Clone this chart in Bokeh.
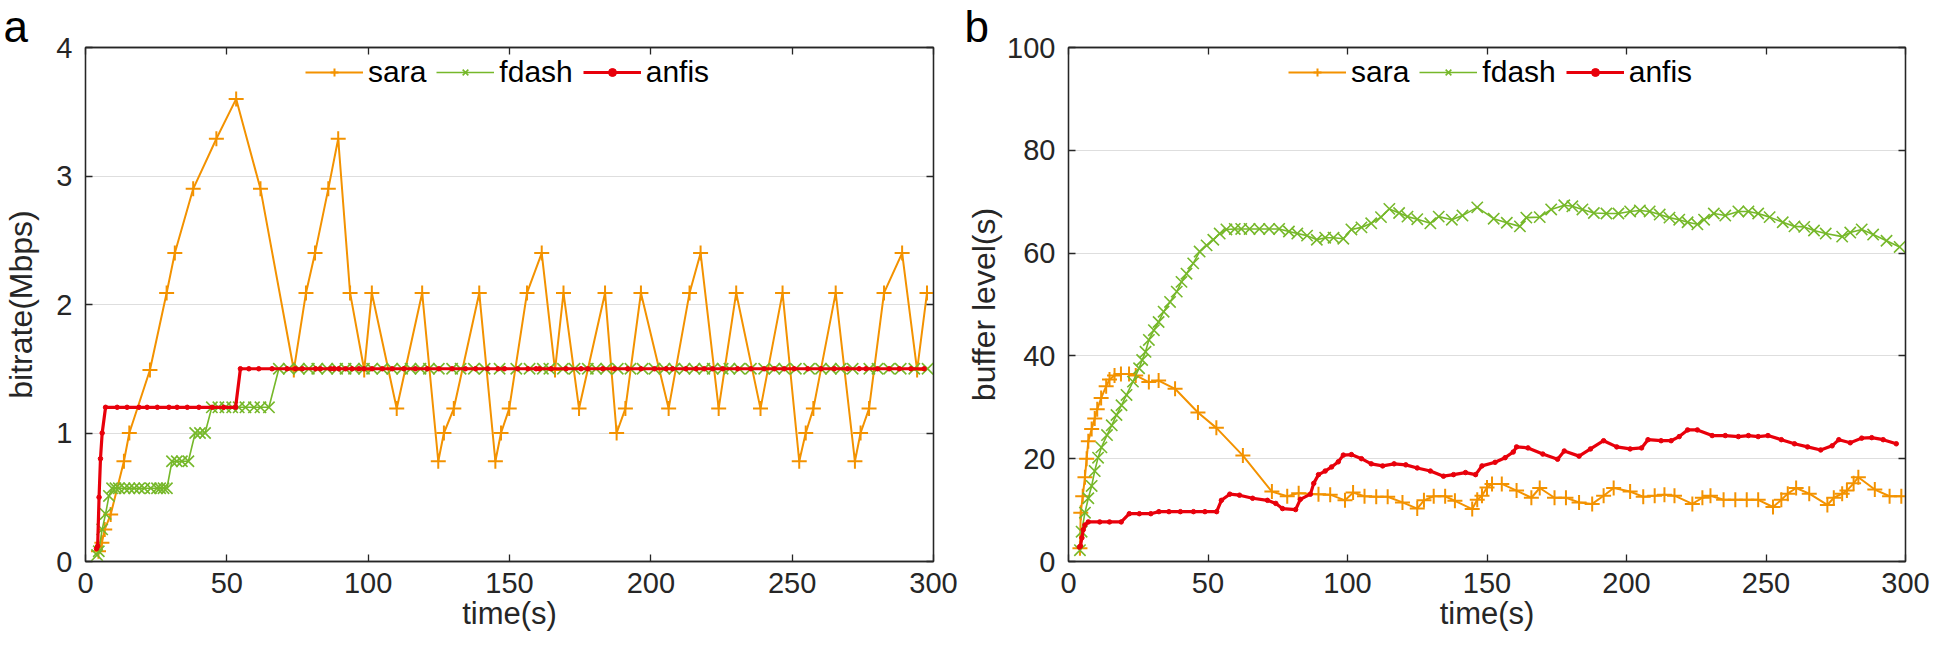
from bokeh.plotting import figure
from bokeh.models import (Range1d, LinearAxis, FixedTicker, Legend, LegendItem,
                          CustomJSTickFormatter)
from bokeh.layouts import row
from bokeh.embed import file_html
from bokeh.resources import INLINE

# ---------------- data ----------------
x_ticks = [0, 50, 100, 150, 200, 250, 300]
rate_ticks = [0, 1, 2, 3, 4]
buf_ticks = [0, 20, 40, 60, 80, 100]

sara_a_t = [4.6, 5.8, 6.8, 8.9, 13.6, 15.5, 22.8, 28.7, 31.6, 38.1, 46.3, 53.3,
            61.9, 73.7, 78.0, 81.2, 85.9, 89.4, 93.6, 98.6, 101.3, 110.1, 119.1, 124.8,
            126.8, 130.3, 139.3, 145.0, 147.0, 149.9, 156.2, 161.4, 166.1, 169.1, 174.6, 183.8,
            187.9, 191.0, 196.5, 206.3, 213.7, 217.6, 224.0, 230.2, 238.8, 246.6, 252.5, 254.8,
            257.5, 265.4, 272.2, 274.2, 277.2, 282.5, 288.9, 294.2, 297.7]
sara_a_v = [0.08, 0.145, 0.25, 0.365, 0.78, 1.0, 1.49, 2.09, 2.4, 2.9, 3.29, 3.6,
            2.9, 1.49, 2.09, 2.4, 2.9, 3.29, 2.09, 1.49, 2.09, 1.19, 2.09, 0.78,
            1.0, 1.19, 2.09, 0.78, 1.0, 1.19, 2.09, 2.4, 1.49, 2.09, 1.19, 2.09,
            1.0, 1.19, 2.09, 1.19, 2.09, 2.4, 1.19, 2.09, 1.19, 2.09, 0.78, 1.0,
            1.19, 2.09, 0.78, 1.0, 1.19, 2.09, 2.4, 1.49, 2.09]

sara_b_t = [4.1, 4.4, 5.1, 5.9, 6.5, 7.1, 8.3, 9.4, 10.3, 11.7,
            13.5, 14.7, 16.5, 18.8, 21.7, 24.1, 28.8, 32.3, 38.2, 46.4,
            53.0, 62.5, 72.9, 78.4, 82.5, 89.6, 93.8, 99.1, 102.0, 106.1,
            110.3, 114.4, 119.7, 125.0, 127.4, 130.9, 135.0, 138.5, 144.7, 146.5,
            148.2, 150.0, 151.8, 155.3, 160.6, 165.9, 168.9, 174.2, 178.3, 183.0,
            187.7, 191.8, 195.4, 201.3, 206.0, 210.1, 213.6, 217.2, 223.6, 227.2,
            230.1, 234.8, 239.0, 243.1, 247.2, 252.5, 255.5, 257.8, 260.8, 265.5,
            272.0, 274.3, 277.3, 279.0, 281.4, 283.1, 289.0, 294.3, 298.5]
sara_b_v = [2.6, 9.5, 12.7, 16.4, 20.0, 23.4, 25.8, 27.8, 29.6, 31.8,
            34.1, 35.4, 36.2, 36.5, 36.5, 36.2, 34.9, 35.2, 33.6, 29.0,
            26.0, 20.6, 13.6, 12.7, 13.3, 13.1, 13.0, 11.9, 13.4, 12.7,
            12.6, 12.6, 11.5, 10.3, 11.9, 12.7, 12.7, 11.8, 10.2, 12.0,
            12.8, 14.4, 15.1, 15.1, 13.8, 12.4, 14.3, 12.4, 12.4, 11.5,
            11.2, 12.8, 14.3, 13.6, 12.6, 12.8, 13.0, 12.8, 11.2, 12.4,
            12.8, 12.0, 12.0, 12.0, 12.0, 10.6, 12.0, 13.2, 14.3, 13.2,
            11.0, 12.4, 13.2, 13.8, 15.2, 16.4, 14.0, 12.7, 12.7]

fdash_t = [4.1, 4.7, 5.9, 7.1, 8.3, 9.4, 10.6, 11.8, 13.8, 15.5,
           17.2, 19.0, 20.8, 23.1, 25.3, 26.4, 27.6, 28.8, 30.6, 32.3,
           34.1, 36.4, 38.8, 40.5, 42.3, 44.7, 47.0, 49.5, 51.9, 54.2,
           56.6, 59.6, 61.9, 64.9, 68.4, 71.9, 75.5, 79.0, 82.0, 85.5,
           89.0, 92.0, 95.0, 98.5, 101.4, 105.0, 108.5, 112.0, 115.0, 118.5,
           121.5, 125.0, 129.7, 132.7, 137.4, 141.2, 146.5, 152.4, 157.1, 161.8,
           164.1, 168.9, 173.0, 177.7, 180.6, 184.2, 188.3, 192.8, 197.1, 201.3,
           204.8, 208.3, 211.9, 215.4, 218.9, 221.9, 225.4, 227.8, 231.3, 235.4,
           240.1, 243.7, 247.2, 251.3, 256.0, 260.2, 263.7, 267.2, 271.4, 277.3,
           280.2, 284.3, 288.4, 293.2, 297.9]
fdash_rate = [0.05, 0.08, 0.25, 0.37, 0.51, 0.57, 0.57, 0.57, 0.57, 0.57,
              0.57, 0.57, 0.57, 0.57, 0.57, 0.57, 0.57, 0.57, 0.78, 0.78,
              0.78, 0.78, 1.0, 1.0, 1.0, 1.2, 1.2, 1.2, 1.2, 1.2,
              1.2, 1.2, 1.2, 1.2, 1.5, 1.5, 1.5, 1.5, 1.5, 1.5,
              1.5, 1.5, 1.5, 1.5, 1.5, 1.5, 1.5, 1.5, 1.5, 1.5,
              1.5, 1.5, 1.5, 1.5, 1.5, 1.5, 1.5, 1.5, 1.5, 1.5,
              1.5, 1.5, 1.5, 1.5, 1.5, 1.5, 1.5, 1.5, 1.5, 1.5,
              1.5, 1.5, 1.5, 1.5, 1.5, 1.5, 1.5, 1.5, 1.5, 1.5,
              1.5, 1.5, 1.5, 1.5, 1.5, 1.5, 1.5, 1.5, 1.5, 1.5,
              1.5, 1.5, 1.5, 1.5, 1.5]
fdash_buf = [2.2, 5.8, 9.5, 12.3, 14.7, 17.6, 20.2, 22.2, 24.6, 26.5,
             28.5, 30.4, 32.4, 35.0, 37.6, 39.2, 40.8, 43.1, 45.0, 46.6,
             48.6, 50.5, 52.5, 54.4, 56.0, 58.0, 60.3, 61.5, 62.6, 63.8,
             64.6, 64.7, 64.7, 64.7, 64.7, 64.7, 64.7, 64.2, 63.8, 63.4,
             62.6, 63.0, 63.0, 62.8, 64.6, 65.0, 65.8, 67.0, 68.6, 67.8,
             67.1, 66.6, 65.8, 67.1, 66.5, 67.3, 68.9, 66.7, 65.9, 65.2,
             66.9, 67.0, 68.5, 69.3, 69.1, 68.5, 67.8, 67.7, 67.7, 68.1,
             68.3, 68.1, 67.5, 66.9, 66.5, 66.0, 65.6, 66.5, 67.7, 67.3,
             68.1, 68.1, 67.7, 67.0, 66.0, 65.2, 65.1, 64.4, 63.8, 63.2,
             64.0, 64.6, 63.6, 62.4, 61.2]

anfis_t = [3.9, 4.3, 4.8, 5.3, 5.9, 7.1, 11.2, 14.7, 18.9, 21.8,
           25.4, 29.5, 32.4, 36.0, 40.1, 44.8, 48.9, 53.1, 54.8, 57.8,
           61.3, 66.0, 71.3, 74.3, 76.7, 81.4, 83.1, 86.7, 87.9, 89.6,
           92.0, 94.3, 96.7, 98.5, 101.4, 105.0, 108.5, 112.6, 116.7, 120.9,
           125.0, 129.7, 134.4, 138.0, 142.3, 145.9, 148.2, 152.9, 156.5, 159.4,
           160.6, 164.7, 170.0, 175.3, 177.7, 183.0, 187.1, 191.8, 196.5, 201.3,
           205.4, 207.7, 212.4, 216.0, 218.9, 221.9, 225.4, 230.7, 235.4, 240.1,
           243.7, 247.2, 250.7, 255.5, 260.2, 264.9, 269.6, 273.7, 276.1, 280.2,
           284.3, 287.9, 292.0, 296.7]
anfis_rate = [0.1, 0.12, 0.5, 0.8, 1.0, 1.2, 1.2, 1.2, 1.2, 1.2,
              1.2, 1.2, 1.2, 1.2, 1.2, 1.2, 1.2, 1.2, 1.5, 1.5,
              1.5, 1.5, 1.5, 1.5, 1.5, 1.5, 1.5, 1.5, 1.5, 1.5,
              1.5, 1.5, 1.5, 1.5, 1.5, 1.5, 1.5, 1.5, 1.5, 1.5,
              1.5, 1.5, 1.5, 1.5, 1.5, 1.5, 1.5, 1.5, 1.5, 1.5,
              1.5, 1.5, 1.5, 1.5, 1.5, 1.5, 1.5, 1.5, 1.5, 1.5,
              1.5, 1.5, 1.5, 1.5, 1.5, 1.5, 1.5, 1.5, 1.5, 1.5,
              1.5, 1.5, 1.5, 1.5, 1.5, 1.5, 1.5, 1.5, 1.5, 1.5,
              1.5, 1.5, 1.5, 1.5]
anfis_buf = [2.8, 3.0, 4.6, 6.2, 7.1, 7.7, 7.7, 7.7, 7.7, 9.3,
             9.3, 9.3, 9.7, 9.7, 9.7, 9.7, 9.7, 9.7, 11.9, 13.1,
             12.9, 12.3, 11.9, 11.3, 10.3, 10.1, 12.1, 13.1, 15.2, 16.9,
             17.6, 18.4, 19.4, 20.7, 20.8, 20.0, 19.0, 18.6, 19.0, 18.8,
             18.2, 17.6, 16.6, 16.9, 17.3, 16.9, 18.6, 19.3, 20.2, 21.3,
             22.3, 22.1, 20.9, 19.9, 21.5, 20.5, 21.9, 23.5, 22.3, 21.9,
             22.1, 23.7, 23.5, 23.5, 24.3, 25.6, 25.6, 24.5, 24.5, 24.3,
             24.5, 24.3, 24.5, 23.7, 22.9, 22.3, 21.7, 22.5, 23.7, 23.1,
             24.0, 24.1, 23.7, 22.9]

# ---------------- styling ----------------
FONT = "Liberation Sans"
TXT = "#262626"
C_SARA = "#F39200"
C_FDASH = "#76B82A"
C_ANFIS = "#E8000B"
FIG_H = 638
TOP = 47
BOTTOM = 77


def style_axis(ax, ticks, label_standoff, title_standoff, title_size):
    ax.ticker = FixedTicker(ticks=ticks)
    ax.major_tick_in = 7
    ax.major_tick_out = 0
    ax.minor_tick_line_color = None
    ax.axis_line_color = TXT
    ax.axis_line_width = 1.3
    ax.major_tick_line_color = TXT
    ax.major_tick_line_width = 1.3
    ax.major_label_text_font = FONT
    ax.major_label_text_font_size = "29px"
    ax.major_label_text_color = TXT
    ax.major_label_standoff = label_standoff
    ax.axis_label_text_font = FONT
    ax.axis_label_text_font_size = title_size
    ax.axis_label_text_font_style = "normal"
    ax.axis_label_text_color = TXT
    ax.axis_label_standoff = title_standoff


def mirror_axis(ticks, side, p):
    ax = LinearAxis(ticker=FixedTicker(ticks=ticks),
                    formatter=CustomJSTickFormatter(code="return ''"))
    ax.major_tick_in = 7
    ax.major_tick_out = 0
    ax.minor_tick_line_color = None
    ax.axis_line_color = TXT
    ax.axis_line_width = 1.3
    ax.major_tick_line_color = TXT
    ax.major_tick_line_width = 1.3
    ax.major_label_standoff = 0
    ax.major_label_text_font_size = "1px"
    p.add_layout(ax, side)


def make_panel(width, left, right, ymax, yticks, ylabel, ylab_standoff,
               sara_t, sara_v, fd_v, an_v, panel_label, label_offset):
    p = figure(width=width, height=FIG_H, x_range=Range1d(0, 300),
               y_range=Range1d(0, ymax), output_backend="svg",
               toolbar_location=None, min_border_left=left,
               min_border_right=right, min_border_top=TOP,
               min_border_bottom=BOTTOM)
    p.background_fill_color = "white"
    p.border_fill_color = "white"
    p.outline_line_color = TXT
    p.outline_line_width = 1.3
    p.xgrid.grid_line_color = None
    p.ygrid.grid_line_color = "#DEDEDE"
    p.ygrid.grid_line_width = 1
    p.ygrid.ticker = FixedTicker(ticks=yticks)

    # panel letter as the plot title, left of the frame
    p.title.text = panel_label
    p.title.text_font = FONT
    p.title.text_font_size = "44px"
    p.title.text_font_style = "normal"
    p.title.text_color = "black"
    p.title.align = "left"
    p.title.offset = label_offset
    p.title.standoff = -6
    p.title.vertical_align = "bottom"

    style_axis(p.xaxis[0], x_ticks, 11, 0, "31px")
    style_axis(p.yaxis[0], yticks, 13, ylab_standoff, "32px")
    p.xaxis[0].axis_label = "time(s)"
    p.yaxis[0].axis_label = ylabel
    mirror_axis(x_ticks, "above", p)
    mirror_axis(yticks, "right", p)

    l1 = p.line(sara_t, sara_v, line_color=C_SARA, line_width=2)
    s1 = p.scatter(sara_t, sara_v, marker="cross", size=15, line_color=C_SARA,
                   line_width=2)
    l2 = p.line(fdash_t, fd_v, line_color=C_FDASH, line_width=1.6)
    s2 = p.scatter(fdash_t, fd_v, marker="x", size=16, line_color=C_FDASH,
                   line_width=1.6)
    l3 = p.line(anfis_t, an_v, line_color=C_ANFIS, line_width=3.2)
    s3 = p.scatter(anfis_t, an_v, marker="circle", size=4.5, line_color=C_ANFIS,
                   fill_color=C_ANFIS)

    frame_h = FIG_H - TOP - BOTTOM
    legend = Legend(items=[LegendItem(label="sara", renderers=[l1, s1]),
                           LegendItem(label="fdash", renderers=[l2, s2]),
                           LegendItem(label="anfis", renderers=[l3, s3])],
                    orientation="horizontal", location=(220, frame_h - 42))
    legend.label_text_font = FONT
    legend.label_text_font_size = "30px"
    legend.label_text_color = "black"
    legend.glyph_width = 58
    legend.glyph_height = 20
    legend.label_standoff = 5
    legend.spacing = 10
    legend.padding = 0
    legend.margin = 0
    legend.border_line_color = None
    legend.background_fill_alpha = 0
    p.add_layout(legend)
    return p


pa = make_panel(960, 82, 27, 4, rate_ticks, "bitrate(Mbps)", 14,
                sara_a_t, sara_a_v, fdash_rate, anfis_rate, "a", -82)
pb = make_panel(970, 108, 25, 100, buf_ticks, "buffer level(s)", 2,
                sara_b_t, sara_b_v, fdash_buf, anfis_buf, "b", -104)

layout = row(pa, pb)
open("out.html", "w").write(file_html(layout, INLINE))
